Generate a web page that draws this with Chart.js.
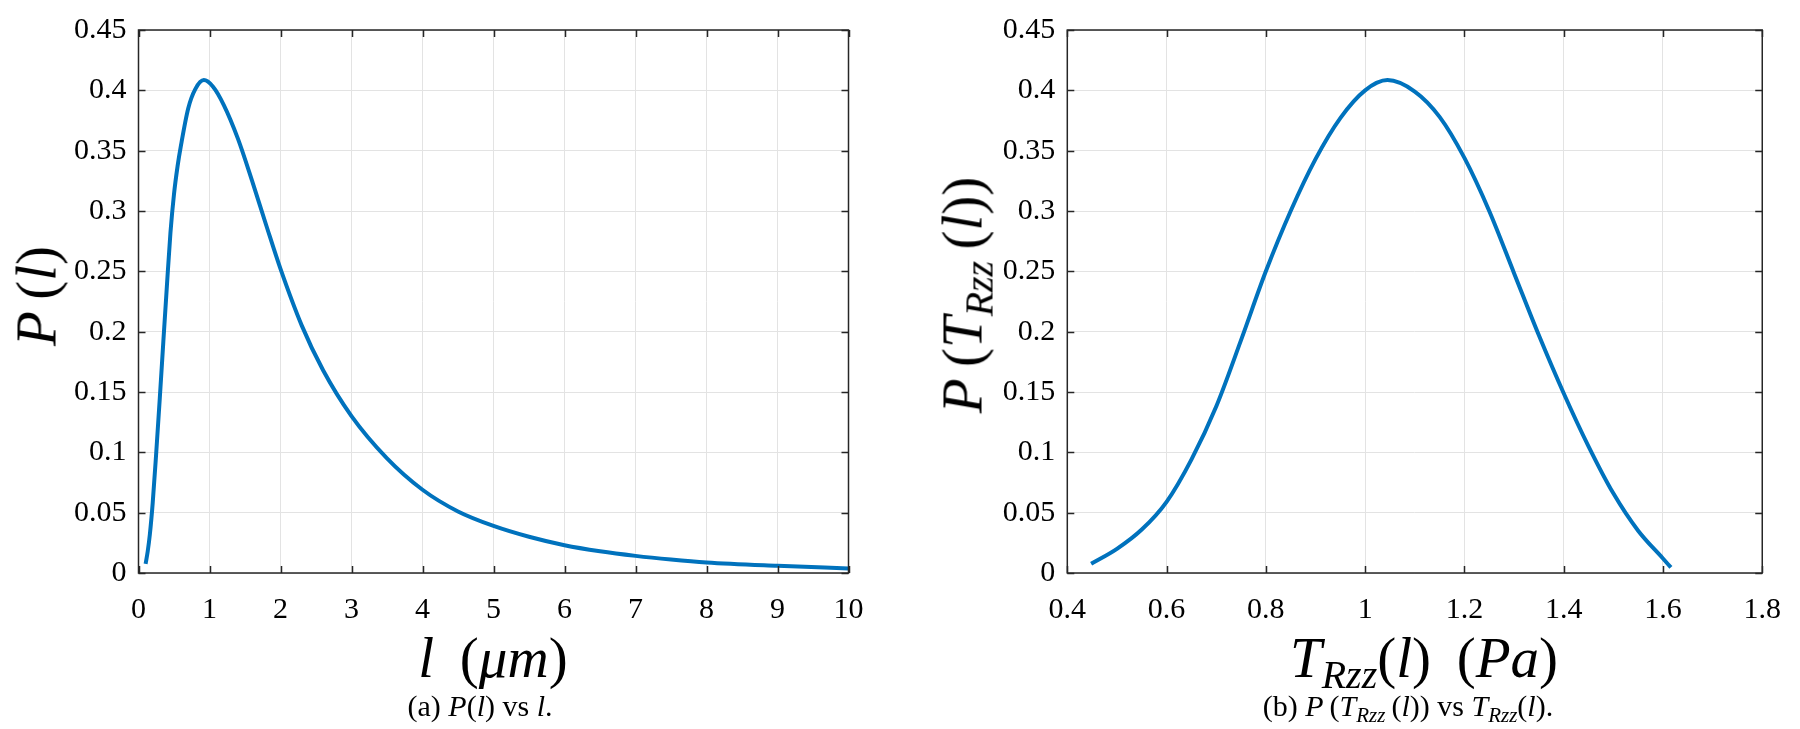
<!DOCTYPE html>
<html>
<head>
<meta charset="utf-8">
<script src="https://cdn.jsdelivr.net/npm/chart.js@4/dist/chart.umd.min.js"></script>
<style>
    html, body { margin: 0; padding: 0; background: #fff; }
    #wrap { position: relative; width: 1800px; height: 729px; overflow: hidden; }
    .pane { position: absolute; top: 0; width: 900px; height: 729px; }
    .lbl {
        position: absolute; white-space: nowrap; line-height: 1;
        font-family: "Liberation Serif", "DejaVu Serif", serif; color: #000;
        transform: translate(-50%, -50%);
    }
    .lbl i { font-style: italic; }
    .lbl sub { font-size: 0.7em; vertical-align: -0.28em; line-height: 0; }
    .big { font-size: 57px; }
    .cap { font-size: 30px; }
    .rot { transform: translate(-50%, -50%) rotate(-90deg); }
</style>
</head>
<body>
<div id="wrap">
    <div class="pane" style="left:0"><canvas id="chartL"></canvas></div>
    <div class="pane" style="left:900px"><canvas id="chartT"></canvas></div>

    <div class="lbl big rot" style="left:36px; top:296px"><i>P</i>&thinsp;(<i>l</i>)</div>
    <div class="lbl big" style="left:493px; top:657px"><i>l</i>&nbsp;&thinsp;(<i>μm</i>)</div>
    <div class="lbl cap" style="left:480px; top:706px">(a) <i>P</i>(<i>l</i>) vs <i>l</i>.</div>

    <div class="lbl big rot" style="left:962px; top:295px"><i>P</i>&thinsp;(<i>T</i><sub><i>Rzz</i></sub>&thinsp;(<i>l</i>))</div>
    <div class="lbl big" style="left:1424px; top:657px"><i>T</i><sub><i>Rzz</i></sub>(<i>l</i>)&nbsp;&thinsp;(<i>Pa</i>)</div>
    <div class="lbl cap" style="left:1408px; top:706px">(b) <i>P</i>&thinsp;(<i>T</i><sub><i>Rzz</i></sub>&thinsp;(<i>l</i>)) vs <i>T</i><sub><i>Rzz</i></sub>(<i>l</i>).</div>
</div>

<script>
/* P(l) vs l  and  P(T_Rzz(l)) vs T_Rzz(l) */

// (a) length l in um, probability P(l)
const lValues = [0.1, 0.13, 0.16, 0.2, 0.25, 0.3, 0.35, 0.4, 0.45, 0.5, 0.55, 0.6, 0.7, 0.8, 0.92,
                 1.05, 1.2, 1.4, 1.6, 1.8, 2.0, 2.3, 2.6, 3.0, 3.5, 4.0, 4.5, 5.0, 5.5,
                 6.0, 6.5, 7.0, 7.5, 8.0, 9.0, 10.0];
const pL      = [0.0076, 0.018, 0.032, 0.058, 0.100, 0.145, 0.192, 0.238, 0.282, 0.314, 0.337, 0.355, 0.385, 0.401, 0.4085,
                 0.403, 0.388, 0.36, 0.325, 0.288, 0.252, 0.205, 0.168, 0.13, 0.095, 0.069, 0.051, 0.039, 0.030,
                 0.023, 0.018, 0.0142, 0.0112, 0.0088, 0.006, 0.0038];

// (b) stress T_Rzz(l) in Pa, probability P(T_Rzz)
const tValues = [0.448, 0.5, 0.55, 0.6, 0.65, 0.7, 0.75, 0.8, 0.85, 0.9, 0.95, 1.0, 1.045,
                 1.1, 1.15, 1.2, 1.25, 1.3, 1.35, 1.4, 1.45, 1.5, 1.55, 1.6, 1.616];
const pT      = [0.0076, 0.02, 0.036, 0.059, 0.094, 0.138, 0.193, 0.25, 0.3, 0.343, 0.377, 0.4, 0.4085,
                 0.399, 0.378, 0.344, 0.30, 0.2485, 0.197, 0.149, 0.105, 0.066, 0.035, 0.012, 0.0046];

// tick labels
const lTicks = [0, 1, 2, 3, 4, 5, 6, 7, 8, 9, 10];
const tTicks = [0.4, 0.6, 0.8, 1, 1.2, 1.4, 1.6, 1.8];
const pTicks = [0, 0.05, 0.1, 0.15, 0.2, 0.25, 0.3, 0.35, 0.4, 0.45];

const LINE = '#0072BD';
const AXIS = '#262626';
const GRID = '#e3e3e3';
const TICK_FONT = { family: "'Liberation Serif', serif", size: 30 };

// matlab style box with inward ticks on all four sides
const boxPlugin = {
    id: 'box',
    afterDraw(chart) {
        const { ctx, chartArea: a, scales } = chart;
        const len = 7;
        ctx.save();
        ctx.strokeStyle = AXIS;
        ctx.lineWidth = 1.5;
        ctx.beginPath();
        scales.x.ticks.forEach(t => {
            const px = Math.round(scales.x.getPixelForValue(t.value)) + 0.5;
            ctx.moveTo(px, a.bottom); ctx.lineTo(px, a.bottom - len);
            ctx.moveTo(px, a.top);    ctx.lineTo(px, a.top + len);
        });
        scales.y.ticks.forEach(t => {
            const py = Math.round(scales.y.getPixelForValue(t.value)) + 0.5;
            ctx.moveTo(a.left, py);  ctx.lineTo(a.left + len, py);
            ctx.moveTo(a.right, py); ctx.lineTo(a.right - len, py);
        });
        ctx.stroke();
        ctx.strokeRect(a.left, a.top, a.right - a.left, a.bottom - a.top);
        ctx.restore();
    }
};

function fmt(v) {
    return String(Number(v.toFixed(2)));
}

function criarGrafico(id, xs, ys, xTicks, xMin, xMax, area) {
    const ctx = document.getElementById(id);
    return new Chart(ctx, {
        type: 'line',
        data: {
            datasets: [{
                data: xs.map((x, i) => ({ x, y: ys[i] })),
                borderColor: LINE,
                borderWidth: 4,
                pointRadius: 0,
                fill: false,
                cubicInterpolationMode: 'monotone',
            }]
        },
        options: {
            responsive: true,
            maintainAspectRatio: false,
            animation: false,
            layout: { padding: { left: 0, top: area.top, right: area.right, bottom: 0 } },
            plugins: { legend: { display: false }, tooltip: { enabled: false } },
            scales: {
                x: {
                    type: 'linear',
                    min: xMin, max: xMax,
                    afterBuildTicks: s => { s.ticks = xTicks.map(v => ({ value: v })); },
                    afterFit: s => { s.height = area.bottom; },
                    grid: { color: GRID, lineWidth: 1, drawTicks: false },
                    border: { display: false },
                    ticks: { font: TICK_FONT, color: '#000', padding: 19, maxRotation: 0, callback: fmt },
                },
                y: {
                    min: 0, max: 0.45,
                    afterBuildTicks: s => { s.ticks = pTicks.map(v => ({ value: v })); },
                    afterFit: s => { s.width = area.left; },
                    grid: { color: GRID, lineWidth: 1, drawTicks: false },
                    border: { display: false },
                    ticks: { font: TICK_FONT, color: '#000', padding: 12, callback: fmt },
                }
            }
        },
        plugins: [boxPlugin]
    });
}

document.addEventListener('DOMContentLoaded', () => {
    criarGrafico('chartL', lValues, pL, lTicks, 0, 10,  { left: 138.5, top: 19, right: 51.5, bottom: 156 });
    criarGrafico('chartT', tValues, pT, tTicks, 0.4, 1.8, { left: 167.3, top: 19, right: 23.3, bottom: 156 });
});
</script>
</body>
</html>
